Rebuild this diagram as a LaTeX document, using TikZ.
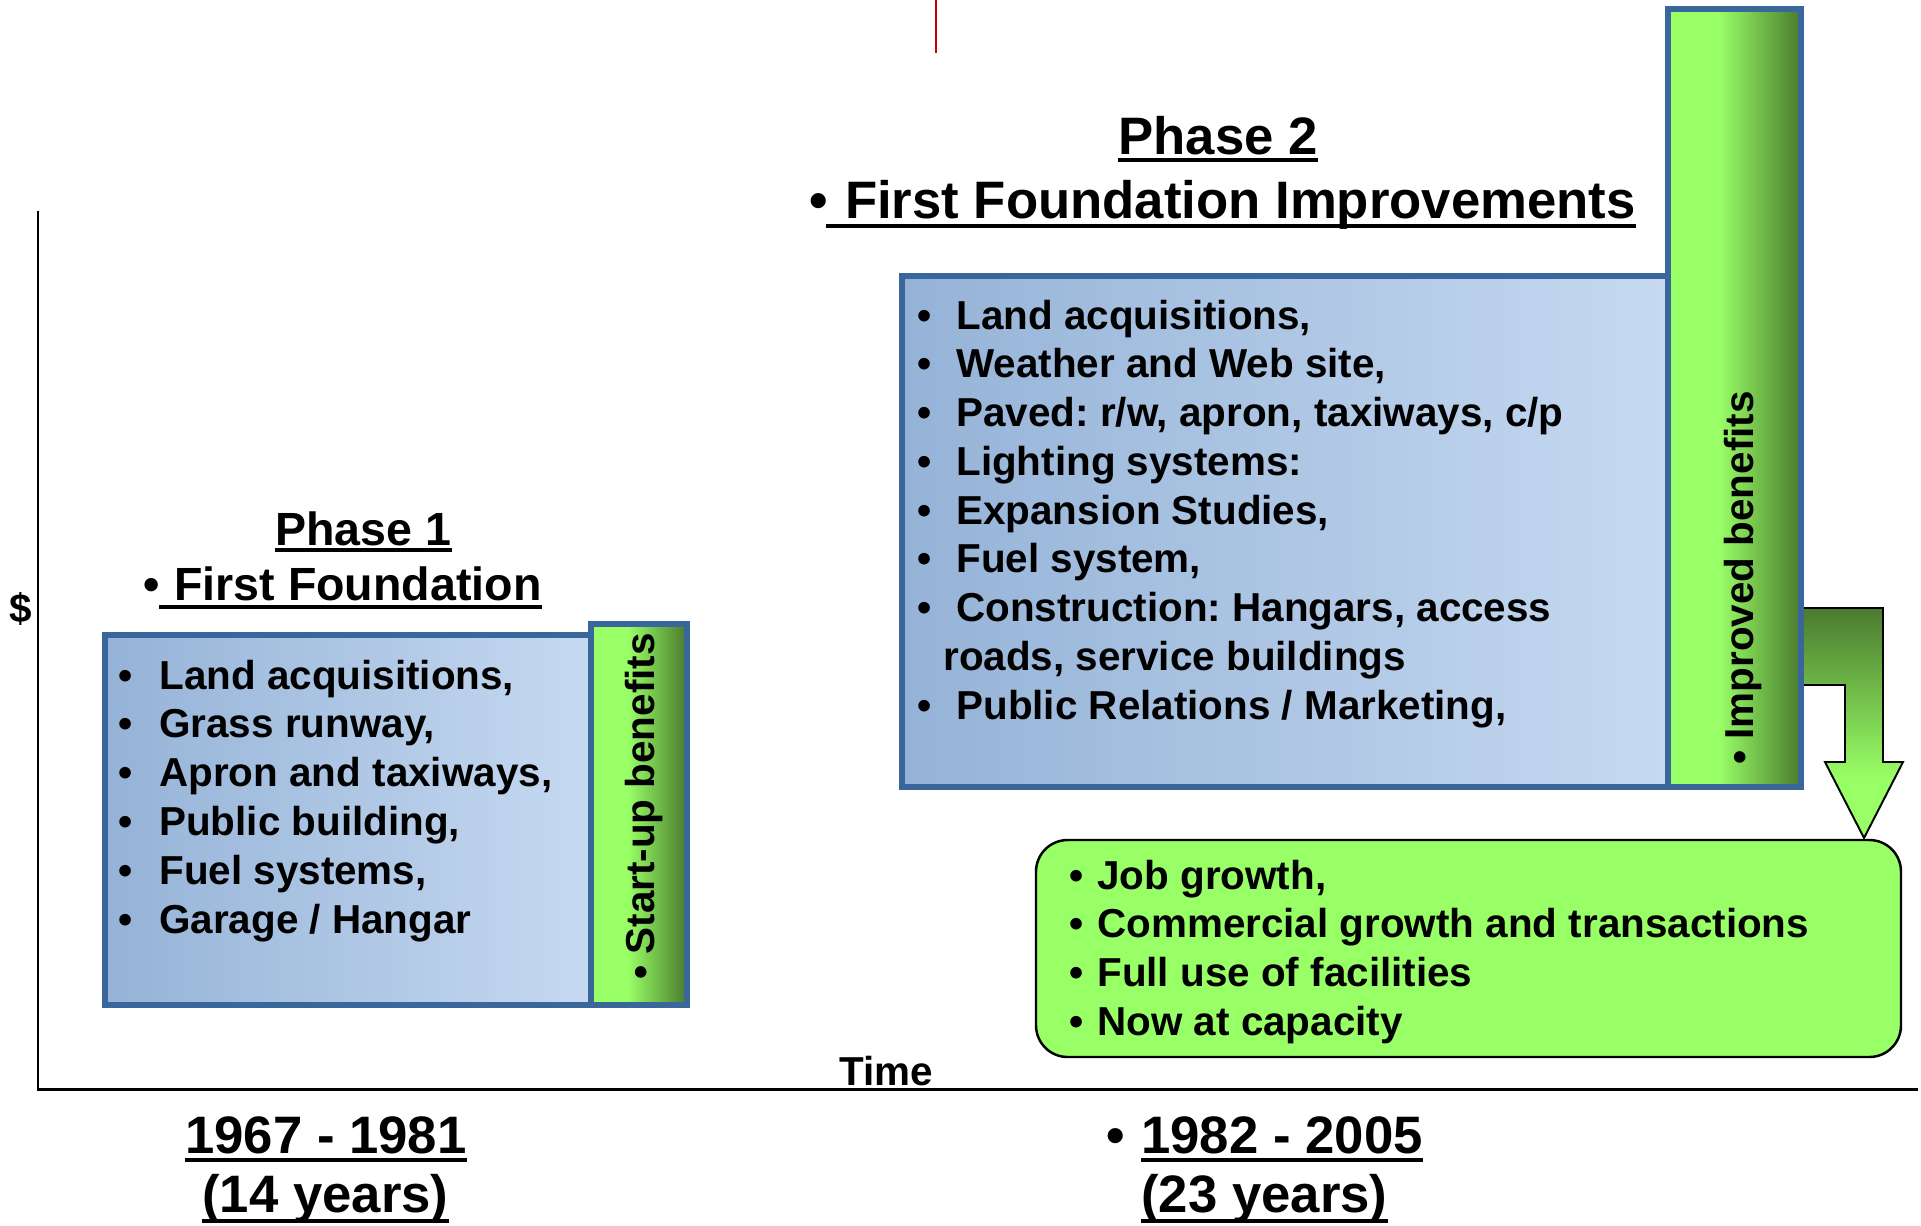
\documentclass[tikz,border=0pt]{standalone}
\usepackage{fontspec}
\setmainfont{Liberation Sans}
\usetikzlibrary{calc}
\frenchspacing

\definecolor{edgeblue}{HTML}{3A679B}
\definecolor{boxdark}{HTML}{95B3D7}
\definecolor{boxlight}{HTML}{C6D9F1}
\definecolor{lgreen}{HTML}{99FF66}
\definecolor{dgreen}{HTML}{4A7A2E}
\definecolor{markred}{HTML}{CC0000}

% light green on the left, darkening towards the right edge
\pgfdeclarehorizontalshading{barshade}{100bp}{color(0bp)=(lgreen); color(25bp)=(lgreen); color(44bp)=(lgreen); color(75bp)=(dgreen); color(100bp)=(dgreen)}
% dark at the top of the bent arrow, light at its tip
\pgfdeclareverticalshading{arrowshade}{100bp}{color(0bp)=(lgreen); color(25bp)=(lgreen); color(38bp)=(lgreen); color(75bp)=(dgreen); color(100bp)=(dgreen)}

\begin{document}
\begin{tikzpicture}[x=0.02cm,y=-0.02cm,
  txt/.style={inner sep=0pt, font=\bfseries\fontsize{23}{27}\selectfont\frenchspacing},
  ttl/.style={inner sep=0pt, font=\bfseries\fontsize{30}{36}\selectfont},
  ttlsmall/.style={inner sep=0pt, font=\bfseries\fontsize{26.5}{32}\selectfont},
  uline/.style={line width=2.4pt},
  frame/.style={draw=edgeblue, line width=3.4pt},
  bluebox/.style={frame, left color=boxdark, right color=boxlight},
  greenbar/.style={frame, shading=barshade},
  axisline/.style={line width=1.7pt},
  outcome/.style={draw=black, fill=lgreen, line width=1.4pt, rounded corners=18pt},
  bentarrow/.style={draw=black, line width=1.1pt, shading=arrowshade}]

\useasboundingbox (0,0) rectangle (1921,1225);

% axes
\coordinate (ytop) at (38,211);
\coordinate (origin) at (38,1089);
\coordinate (xend) at (1918,1089);
\draw[axisline] (ytop) -- (origin) -- (xend);
\node[txt] (dollar) at (21,609) {\$};
\node[txt, anchor=base west] (time) at (839,1085) {Time};

% small red tick at the top
\coordinate (mtop) at (936,0);
\coordinate (mbot) at (936,53);
\draw[markred, line width=1.1pt] (mtop) -- (mbot);

% ---------- Phase 1 ----------
\node[ttlsmall, anchor=base west] (ph1) at (275,545) {Phase 1};
\draw[uline] ($(ph1.base west)+(0,5)$) -- ($(ph1.base east)+(0,5)$);
\node[ttlsmall, anchor=base] (ph1b) at (152,600) {•};
\node[ttlsmall, anchor=base west] (ph1t) at (161,600) {\ First Foundation};
\draw[uline] ($(ph1t.base west)+(-2,7)$) -- ($(ph1t.base east)+(0,7)$);

\draw[bluebox] (105,635) rectangle (591,1005);
\draw[greenbar] (591,624) rectangle (687,1005);
\node[txt, rotate=90, anchor=base west] (startup) at (654,980) {• Start-up benefits};

\foreach \t [count=\i] in {{Land acquisitions,},{Grass runway,},{Apron and taxiways,},{Public building,},{Fuel systems,},{Garage / Hangar}}{
  \node[txt, anchor=base] (pab\i) at (126,{689+48.8*(\i-1)}) {•};
  \node[txt, anchor=base west] (pa\i) at (159,{689+48.8*(\i-1)}) {\t};
}

% ---------- Phase 2 ----------
\node[ttl, anchor=base west] (ph2) at (1118,154) {Phase 2};
\draw[uline] ($(ph2.base west)+(0,6)$) -- ($(ph2.base east)+(0,6)$);
\node[ttl, anchor=base] (ph2b) at (819,218) {•};
\node[ttl, anchor=base west] (ph2t) at (830,218) {\ First Foundation Improvements};
\draw[uline] ($(ph2t.base west)+(-4,8)$) -- ($(ph2t.base east)+(0,8)$);

\draw[bluebox] (902,276) rectangle (1668,787);

% bent arrow from the benefits bar down to the outcome box
\draw[bentarrow] (1798,608) -- (1883,608) -- (1883,762) -- (1903,762) -- (1864,838)
  -- (1825,762) -- (1845,762) -- (1845,685) -- (1798,685) -- cycle;

\draw[greenbar] (1668,9) rectangle (1801,787);
\node[txt, rotate=90, anchor=base west] (improved) at (1753,765) {• Improved benefits};

\foreach \t [count=\i] in {{Land acquisitions,},{Weather and Web site,},{Paved: r/w, apron, taxiways, c/p},{Lighting systems:},{Expansion Studies,},{Fuel system,},{Construction: Hangars, access}}{
  \node[txt, anchor=base] (pbb\i) at (925,{329+48.75*(\i-1)}) {•};
  \node[txt, anchor=base west] (pb\i) at (956,{329+48.75*(\i-1)}) {\t};
}
\node[txt, anchor=base west] (pb8) at (943,{329+48.75*7}) {roads, service buildings};
\node[txt, anchor=base] (pbb9) at (925,{329+48.75*8}) {•};
\node[txt, anchor=base west] (pb9) at (956,{329+48.75*8}) {Public Relations / Marketing,};

% ---------- outcomes ----------
\draw[outcome] (1036,840) rectangle (1901,1057);
\foreach \t [count=\i] in {{Job growth,},{Commercial growth and transactions},{Full use of facilities},{Now at capacity}}{
  \node[txt, anchor=base] (ocb\i) at (1077,{889+48.7*(\i-1)}) {•};
  \node[txt, anchor=base west] (oc\i) at (1097,{889+48.7*(\i-1)}) {\t};
}

% ---------- periods ----------
\node[ttl, anchor=base west] (d1) at (185,1153) {1967 - 1981};
\draw[uline] ($(d1.base west)+(0,7)$) -- ($(d1.base east)+(0,7)$);
\node[ttl, anchor=base west] (d1y) at (202,1212) {(14 years)};
\draw[uline] ($(d1y.base west)+(0,9)$) -- ($(d1y.base east)+(0,9)$);

\node[ttl, anchor=base] (d2b) at (1116,1153) {•};
\node[ttl, anchor=base west] (d2) at (1141,1153) {1982 - 2005};
\draw[uline] ($(d2.base west)+(0,7)$) -- ($(d2.base east)+(0,7)$);
\node[ttl, anchor=base west] (d2y) at (1141,1212) {(23 years)};
\draw[uline] ($(d2y.base west)+(0,9)$) -- ($(d2y.base east)+(0,9)$);

\end{tikzpicture}
\end{document}
